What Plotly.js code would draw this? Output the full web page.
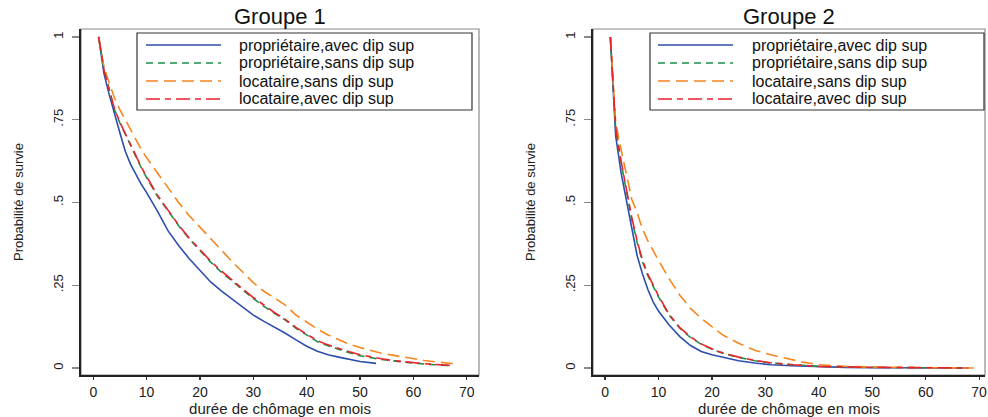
<!DOCTYPE html>
<html><head><meta charset="utf-8">
<script src="https://cdn.plot.ly/plotly-3.0.1.min.js"></script>
<style>html,body{margin:0;padding:0;background:#fff}#chart{width:988px;height:417px}</style>
</head><body><div id="chart"></div>
<script>
// ---------- data ----------
const seriesNames = ["propriétaire,avec dip sup", "propriétaire,sans dip sup", "locataire,sans dip sup", "locataire,avec dip sup"];
const panelTitles = ["Groupe 1", "Groupe 2"];
const xTickVals = [0, 10, 20, 30, 40, 50, 60, 70];
const yTickVals = [0, 0.25, 0.5, 0.75, 1];
const yTickText = ["0", ".25", ".5", ".75", "1"];

// Groupe 1
const g1BlueMonths = [1,2,3,4,5,6,7,8,9,10,12,14,16,18,20,22,24,26,28,30,32,34,36,38,40,42,44,46,48,50,53];
const g1BlueSurv   = [1,0.89,0.825,0.765,0.71,0.655,0.615,0.585,0.555,0.53,0.475,0.415,0.37,0.33,0.295,0.26,0.233,0.208,0.184,0.16,0.141,0.124,0.105,0.085,0.066,0.051,0.04,0.033,0.026,0.02,0.014];
const g1GreenMonths = [1,2,3,4,5,6,7,8,9,10,12,14,16,18,20,22,24,26,28,30,32,34,36,38,40,42,44,46,48,50,52,54,56,58,60,62,64,67];
const g1GreenSurv   = [1,0.905,0.84,0.78,0.74,0.705,0.67,0.635,0.605,0.575,0.52,0.475,0.43,0.39,0.355,0.32,0.29,0.262,0.236,0.21,0.186,0.165,0.145,0.12,0.1,0.08,0.067,0.056,0.046,0.037,0.031,0.026,0.022,0.018,0.015,0.012,0.01,0.007];
const g1OrangeMonths = [1,2,3,4,5,6,7,8,9,10,12,14,16,18,20,22,24,26,28,30,32,34,36,38,40,42,44,46,48,50,52,54,56,58,60,62,64,66,68];
const g1OrangeSurv   = [1,0.91,0.86,0.815,0.78,0.75,0.72,0.69,0.66,0.635,0.59,0.545,0.5,0.46,0.425,0.39,0.355,0.322,0.29,0.258,0.232,0.21,0.19,0.16,0.138,0.118,0.1,0.085,0.072,0.062,0.053,0.045,0.039,0.033,0.028,0.023,0.019,0.016,0.013];
const g1RedMonths = [1,2,3,4,5,6,7,8,9,10,12,14,16,18,20,22,24,26,28,30,32,34,36,38,40,42,44,46,48,50,52,54,56,58,60,62,64,67];
const g1RedSurv   = [1,0.9,0.84,0.782,0.742,0.707,0.672,0.638,0.607,0.578,0.523,0.477,0.432,0.392,0.357,0.323,0.293,0.265,0.239,0.213,0.189,0.167,0.147,0.123,0.102,0.083,0.07,0.059,0.049,0.04,0.033,0.028,0.023,0.019,0.016,0.013,0.011,0.008];

// Groupe 2
const g2BlueMonths = [1,2,3,4,5,6,7,8,9,10,12,14,16,18,20,22,25,28,31,35,40,45,50,60,68];
const g2BlueSurv   = [1,0.7,0.59,0.51,0.42,0.34,0.285,0.238,0.2,0.172,0.13,0.095,0.068,0.05,0.04,0.032,0.022,0.015,0.01,0.007,0.004,0.002,0.001,0.0005,0];
const g2GreenMonths = [1,2,3,4,5,6,7,8,9,10,12,14,16,18,20,22,25,28,31,35,40,45,50,60,67];
const g2GreenSurv   = [1,0.72,0.62,0.53,0.45,0.38,0.322,0.28,0.248,0.215,0.16,0.12,0.092,0.072,0.057,0.045,0.032,0.022,0.015,0.01,0.005,0.003,0.002,0.001,0];
const g2OrangeMonths = [1,2,3,4,5,6,7,8,9,10,12,14,16,18,20,22,25,28,31,34,37,40,45,50,60,69];
const g2OrangeSurv   = [1,0.74,0.66,0.58,0.51,0.47,0.42,0.385,0.355,0.325,0.27,0.22,0.18,0.15,0.125,0.1,0.075,0.054,0.04,0.029,0.018,0.01,0.005,0.003,0.001,0];
const g2RedMonths = [1,2,3,4,5,6,7,8,9,10,12,14,16,18,20,22,25,28,31,35,40,45,50,60,68];
const g2RedSurv   = [1,0.725,0.625,0.535,0.455,0.385,0.326,0.284,0.25,0.218,0.162,0.122,0.094,0.073,0.058,0.046,0.033,0.023,0.016,0.01,0.005,0.003,0.002,0.001,0];

// ---------- styles ----------
const colors = ["#2c4fae", "#1f8f4a", "#f7861e", "#e8232a"];
const dashes = ["solid", "7px,5px", "12px,6px", "14px,5px,6px,5px"];
const FONT = "Liberation Sans, Arial, Helvetica, sans-serif";

const panels = [
  [[g1BlueMonths,g1BlueSurv],[g1GreenMonths,g1GreenSurv],[g1OrangeMonths,g1OrangeSurv],[g1RedMonths,g1RedSurv]],
  [[g2BlueMonths,g2BlueSurv],[g2GreenMonths,g2GreenSurv],[g2OrangeMonths,g2OrangeSurv],[g2RedMonths,g2RedSurv]]
];

const traces = [];
panels.forEach((series, p) => {
  series.forEach((s, i) => {
    traces.push({
      type: "scatter", mode: "lines",
      x: s[0], y: s[1], name: seriesNames[i],
      xaxis: p === 0 ? "x" : "x2", yaxis: p === 0 ? "y" : "y2",
      line: {color: colors[i], width: 1.6, dash: dashes[i]},
      showlegend: false, hoverinfo: "x+y+name"
    });
  });
});

const W = 988, H = 417;
const px = v => v / W, py = v => 1 - v / H;

function xax(dom, range) {
  return {
    domain: dom, range: range, tickvals: xTickVals, ticks: "outside", ticklen: 3,
    tickcolor: "#333", tickwidth: 1.2, showline: true, mirror: false, linecolor: "#222", linewidth: 1.8,
    showgrid: false, zeroline: false,
    tickfont: {family: FONT, size: 14, color: "#222"},
    title: {text: "durée de chômage en mois", font: {family: FONT, size: 15, color: "#222"}, standoff: 6},
    automargin: false
  };
}
function yax(dom) {
  return {
    domain: dom, range: [-0.021, 1.024], tickvals: yTickVals, ticktext: yTickText, tickangle: -90,
    ticks: "outside", ticklen: 7, tickcolor: "#888", tickwidth: 1.2, showline: true, mirror: false,
    linecolor: "#222", linewidth: 1.8, showgrid: false, zeroline: false, ticklabelstandoff: 4,
    tickfont: {family: FONT, size: 13, color: "#222"},
    title: {text: "Probabilité de survie", font: {family: FONT, size: 13, color: "#222"}, standoff: 24},
    automargin: false
  };
}

const ydom = [py(375), py(29)];
const layout = {
  width: W, height: H, margin: {l: 0, r: 0, t: 0, b: 0},
  paper_bgcolor: "#fff", plot_bgcolor: "#fff", showlegend: false,
  xaxis: Object.assign(xax([px(81), px(479)], [-2.3, 72.3]), {anchor: "y"}),
  yaxis: Object.assign(yax(ydom), {anchor: "x"}),
  xaxis2: Object.assign(xax([px(593), px(985)], [-2.25, 71.1]), {anchor: "y2"}),
  yaxis2: Object.assign(yax(ydom), {anchor: "x2"}),
  shapes: [], annotations: []
};

// light frame on top/right of each plot area
[["x", "y"], ["x2", "y2"]].forEach(([xa, ya]) => {
  layout.shapes.push({type: "rect", xref: xa + " domain", yref: ya + " domain", x0: 0, x1: 1, y0: 0, y1: 1,
    line: {color: "#8a8a8a", width: 1.2}, layer: "below"});
});

// panel titles
[[280, 0], [789, 1]].forEach(([cx, i]) => {
  layout.annotations.push({xref: "paper", yref: "paper", x: px(cx), y: py(17), xanchor: "center", yanchor: "middle",
    text: panelTitles[i], showarrow: false, font: {family: FONT, size: 22, color: "#111"}});
});

// legends (one per panel)
const legendBoxes = [{x0: 137, x1: 472, l0: 146, l1: 221, tx: 237}, {x0: 650, x1: 984, l0: 658, l1: 733, tx: 750}];
const rowY = [45, 63, 81, 99];
legendBoxes.forEach(b => {
  layout.shapes.push({type: "rect", xref: "paper", yref: "paper", x0: px(b.x0), x1: px(b.x1), y0: py(110), y1: py(33),
    line: {color: "#333", width: 1.2}, fillcolor: "#fff", layer: "above"});
  seriesNames.forEach((n, i) => {
    layout.shapes.push({type: "line", xref: "paper", yref: "paper", x0: px(b.l0), x1: px(b.l1), y0: py(rowY[i]), y1: py(rowY[i]),
      line: {color: colors[i], width: 1.6, dash: dashes[i]}, layer: "above"});
    layout.annotations.push({xref: "paper", yref: "paper", x: px(b.tx), y: py(rowY[i]), xanchor: "left", yanchor: "middle",
      text: n, showarrow: false, font: {family: FONT, size: 16, color: "#111"}});
  });
});

Plotly.newPlot("chart", traces, layout, {displayModeBar: false, staticPlot: true});
</script>
</body></html>
